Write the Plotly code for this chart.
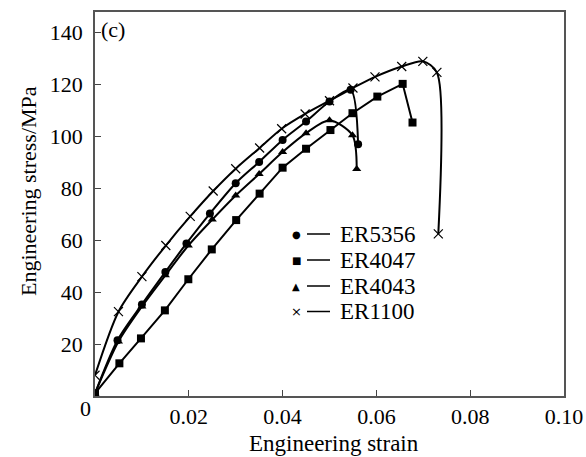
import plotly.graph_objects as go

# ---- data ----
er5356_strain = [0, 0.0048, 0.01, 0.015, 0.0195, 0.0245, 0.03, 0.035, 0.04, 0.045, 0.050, 0.0545, 0.0561]
er5356_stress = [1, 21.5, 35.3, 47.8, 58.8, 70.3, 82.0, 90.2, 98.7, 105.8, 113.5, 118.0, 97.0]

er4047_strain = [0, 0.0052, 0.0098, 0.0149, 0.0199, 0.0249, 0.0301, 0.0351, 0.040, 0.045, 0.0502, 0.0549, 0.0602, 0.0656, 0.0677]
er4047_stress = [1, 12.6, 22.2, 33.0, 45.0, 56.5, 67.8, 78.0, 88.0, 95.3, 102.5, 109.0, 115.4, 120.3, 105.4]

er4043_strain = [0, 0.005, 0.01, 0.015, 0.0199, 0.025, 0.030, 0.035, 0.040, 0.045, 0.050, 0.0549, 0.0558]
er4043_stress = [1, 21.0, 34.5, 46.5, 58.0, 68.0, 77.3, 85.6, 94.0, 101.3, 106.3, 100.5, 87.5]

er1100_strain = [0, 0.005, 0.01, 0.0151, 0.0203, 0.0252, 0.030, 0.0351, 0.0398, 0.0448, 0.050, 0.055, 0.0597, 0.0654, 0.0699, 0.0729, 0.0732]
er1100_stress = [8, 32.5, 46.0, 58.0, 69.2, 79.0, 87.6, 95.6, 103.0, 108.7, 113.8, 118.7, 123.0, 127.0, 129.0, 124.7, 62.5]

series_names = ["ER5356", "ER4047", "ER4043", "ER1100"]
x_ticks = [0.02, 0.04, 0.06, 0.08, 0.10]
x_tick_text = ["0.02", "0.04", "0.06", "0.08", "0.10"]
y_ticks = [20, 40, 60, 80, 100, 120, 140]

FONT = "Liberation Serif"
FS = 22

W, H = 586, 457
PL, PR, PT, PB = 95, 564, 12, 396   # plot area in window pixels


def px(vx):
    return (vx - PL) / (PR - PL)


def py(vy):
    return (PB - vy) / (PB - PT)


fig = go.Figure()

fig.add_trace(go.Scatter(x=er5356_strain, y=er5356_stress, mode="lines+markers",
                         line=dict(color="black", width=2, shape="spline", smoothing=0.8),
                         marker=dict(symbol="circle", size=8, color="black"),
                         name=series_names[0], showlegend=False))
fig.add_trace(go.Scatter(x=er4047_strain, y=er4047_stress, mode="lines+markers",
                         line=dict(color="black", width=2),
                         marker=dict(symbol="square", size=8, color="black"),
                         name=series_names[1], showlegend=False))
fig.add_trace(go.Scatter(x=er4043_strain, y=er4043_stress, mode="lines+markers",
                         line=dict(color="black", width=2, shape="spline", smoothing=0.8),
                         marker=dict(symbol="triangle-up", size=8, color="black"),
                         name=series_names[2], showlegend=False))
fig.add_trace(go.Scatter(x=er1100_strain, y=er1100_stress, mode="lines+markers",
                         line=dict(color="black", width=2, shape="spline", smoothing=0.8),
                         marker=dict(symbol="x-thin", size=9, color="black",
                                     line=dict(color="black", width=1.2)),
                         name=series_names[3], showlegend=False))

# custom legend (marker glyph, dash, name)
legend_glyphs = ["●", "■", "▲", "×"]
legend_glyph_sizes = [10, 10, 10, 13]
row_y = [234, 260, 286, 311.5]
annotations = []
shapes = []
for name, g, gs, yy in zip(series_names, legend_glyphs, legend_glyph_sizes, row_y):
    annotations.append(dict(xref="paper", yref="paper", x=px(296), y=py(yy), text=g, showarrow=False,
                            xanchor="center", yanchor="middle",
                            font=dict(family="DejaVu Sans", size=gs, color="black")))
    shapes.append(dict(type="line", xref="paper", yref="paper", x0=px(307), x1=px(330),
                       y0=py(yy), y1=py(yy), line=dict(color="black", width=1.5)))
    annotations.append(dict(xref="paper", yref="paper", x=px(338), y=py(yy), text=name, showarrow=False,
                            xanchor="left", yanchor="middle",
                            font=dict(family=FONT, size=FS + 1, color="black")))

# axis titles and panel label
annotations.append(dict(xref="paper", yref="paper", x=px(334), y=py(443), text="Engineering strain",
                        showarrow=False, xanchor="center", yanchor="middle",
                        font=dict(family=FONT, size=FS + 1, color="black")))
annotations.append(dict(xref="paper", yref="paper", x=px(28), y=py(191), text="Engineering stress/MPa",
                        showarrow=False, xanchor="center", yanchor="middle", textangle=-90,
                        font=dict(family=FONT, size=FS, color="black")))
annotations.append(dict(xref="paper", yref="paper", x=px(99), y=py(29), text="(c)",
                        showarrow=False, xanchor="left", yanchor="middle",
                        font=dict(family=FONT, size=FS, color="black")))
annotations.append(dict(xref="x", yref="y", x=0, y=0, text="0", showarrow=False,
                        xanchor="right", yanchor="top", xshift=-2, yshift=2,
                        font=dict(family=FONT, size=FS, color="black")))

fig.update_layout(
    width=W, height=H,
    margin=dict(l=PL, r=W - PR, t=PT, b=H - PB),
    paper_bgcolor="white", plot_bgcolor="white",
    font=dict(family=FONT, size=FS, color="black"),
    annotations=annotations, shapes=shapes,
    showlegend=False,
)
fig.update_xaxes(range=[0, 0.10], tickvals=x_ticks, ticktext=x_tick_text,
                 ticks="inside", ticklen=6, tickcolor="#444", tickwidth=1,
                 showline=True, linecolor="#555", linewidth=1.5, mirror=True,
                 showgrid=False, zeroline=False, ticklabelstandoff=0, automargin=False,
                 ticklabeloverflow="allow")
fig.update_yaxes(range=[0, 148], tickvals=y_ticks,
                 ticks="inside", ticklen=6, tickcolor="#444", tickwidth=1,
                 showline=True, linecolor="#555", linewidth=1.5, mirror=True,
                 showgrid=False, zeroline=False, ticklabelstandoff=6, automargin=False)

fig.write_html("out.html",
               config={"displayModeBar": False},
               post_script="document.body.style.margin='0';document.body.style.overflow='hidden';")
